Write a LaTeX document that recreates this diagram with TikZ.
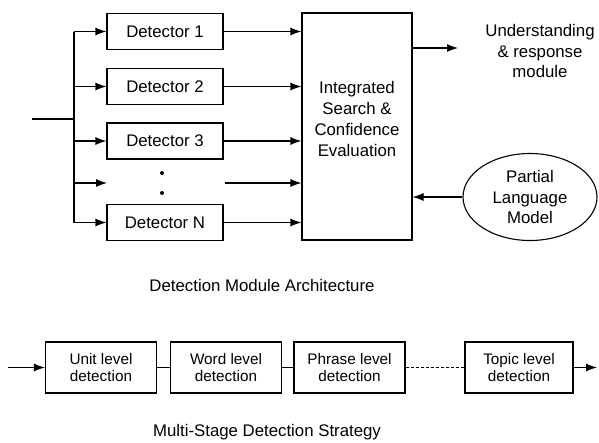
\documentclass[tikz,border=0pt]{standalone}
\usepackage{fontspec}
\setmainfont{Liberation Sans}
\usetikzlibrary{arrows.meta,shapes.geometric}

\begin{document}
\begin{tikzpicture}[x=1pt,y=-1pt,line width=1.1pt,
  font=\fontsize{16.8}{20.8}\selectfont,
  >={Latex[length=11pt,width=8pt]},
  detbox/.style={draw,minimum width=116pt,minimum height=36pt,inner sep=0pt},
  stagebox/.style={draw,minimum width=111pt,minimum height=51pt,inner sep=0pt,
    align=center,font=\fontsize{15.3}{17.5}\selectfont}]

\useasboundingbox (0,0) rectangle (599,442);

% detectors
\node[detbox] (det1) at (165,31.5) {Detector 1};
\node[detbox] (det2) at (165,86.5) {Detector 2};
\node[detbox] (det3) at (165,141) {Detector 3};
\node[detbox] (detn) at (165,222.5) {Detector N};
\fill (162,173) circle (2pt);
\fill (162,193) circle (2pt);
\coordinate (dotin) at (107,183);
\coordinate (dotout) at (225,183);

\node[draw,minimum width=110pt,minimum height=227pt,inner sep=0pt] (integ) at (357,126.5) {};
\node[align=center] (integtxt) at (357,119) {Integrated\\Search \&\\Confidence\\Evaluation};

\node[align=center] (resp) at (540,51) {Understanding\\\& response\\module};
\node[draw,ellipse,minimum width=134pt,minimum height=87pt,inner sep=0pt,align=center] (plm) at (530,197) {Partial\\Language\\Model};

% input bus
\coordinate (busin) at (32,119);
\coordinate (bustop) at (74,31.5);
\coordinate (busbot) at (74,222.5);
\draw (busin) -- (busin -| bustop);
\draw (bustop) -- (busbot);
\foreach \d in {det1,det2,det3,detn}{
  \draw[->] (bustop |- \d.west) -- (\d.west);
  \draw[->] (\d.east) -- (integ.west |- \d.east);
}
\draw[->] (bustop |- dotin) -- (dotin);
\draw[->] (dotout) -- (integ.west |- dotout);

\coordinate (respin) at (458,48);
\draw[->] (integ.east |- respin) -- (respin);
\draw[->] (plm.west) -- (plm.west -| integ.east);

\node (cap1) at (262,285) {Detection Module Architecture};

% multi-stage
\node[stagebox] (unit) at (101,367.5) {Unit level\\detection};
\node[stagebox] (word) at (226,367.5) {Word level\\detection};
\node[stagebox] (phrase) at (349.5,367.5) {Phrase level\\detection};
\node[stagebox,minimum width=108pt] (topic) at (519,367.5) {Topic level\\detection};
\coordinate (stin) at (8,367.5);
\coordinate (stout) at (597,367.5);
\draw[->] (stin) -- (unit);
\draw (unit) -- (word);
\draw (word) -- (phrase);
\draw[densely dashed,line width=0.6pt] (phrase) -- (topic);
\draw[->] (topic) -- (stout);

\node (cap2) at (267,432) {Multi-Stage Detection Strategy};
\end{tikzpicture}
\end{document}
